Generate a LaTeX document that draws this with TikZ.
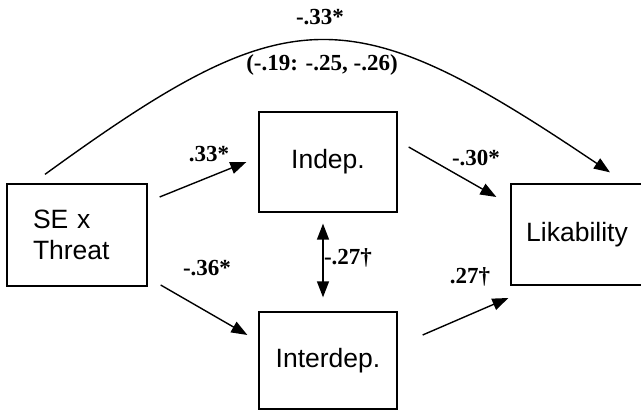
\documentclass[tikz,border=0pt]{standalone}
\usepackage{fontspec}
\setmainfont{Liberation Serif}
\newfontfamily\arialfont{Liberation Sans}
\usetikzlibrary{arrows.meta,calc}
\begin{document}
\begin{tikzpicture}[x=1pt,y=-1pt,
  box/.style={draw,line width=1.3pt,inner sep=0pt,font=\arialfont\fontsize{26.5}{31}\selectfont},
  lbl/.style={inner sep=0pt,font=\bfseries\fontsize{23}{27}\selectfont},
  tip/.style={Triangle[length=16pt,width=12pt]},
  arr/.style={line width=1.4pt,-{Triangle[length=16pt,width=12pt]}},
  darr/.style={line width=1.4pt,{Triangle[length=16pt,width=12pt]}-{Triangle[length=16pt,width=12pt]}}]
\useasboundingbox (0,0) rectangle (641,411);
\node[box,minimum width=140pt,minimum height=102pt,text width=88pt,align=left] (se) at (77,235) {SE x\\Threat};
\node[box,minimum width=138pt,minimum height=100pt] (ind) at (328,162) {Indep.\hspace{8pt}};
\node[box,minimum width=138pt,minimum height=97pt] (intd) at (328,360.5) {Interdep.};
\node[box,minimum width=132pt,minimum height=101pt] (lik) at (577,234.5) {Likability};
\draw[arr] ($(se.east)+(12,-38)$) -- ($(ind.west)+(-12,0)$);
\draw[arr] ($(se.east)+(13,50)$) -- ($(intd.west)+(-11,-25.5)$);
\draw[arr] ($(ind.east)+(11,-15)$) -- ($(lik.west)+(-14,-37.5)$);
\draw[arr] ($(intd.east)+(25,-25.5)$) -- ($(lik.west)+(-2,63.5)$);
\draw[darr] ($(ind.south)+(-5,11)$) -- ($(intd.north)+(-5,-14)$);
\coordinate (cs) at ($(se.north)+(-32,-9)$);
\coordinate (ce) at ($(lik.north)+(33,-11)$);
\draw[arr] (cs) .. controls +(245,-178) and +(-261,-176) .. (ce);
\node[lbl] (l1) at (320,17) {-.33*};
\node[lbl] (l2) at (322,65) {(-.19: -.25, -.26)};
\node[lbl] (l3) at (209,154) {.33*};
\node[lbl] (l4) at (207,268) {-.36*};
\node[lbl] (l5) at (476,158) {-.30*};
\node[lbl] (l6) at (348,258) {-.27\textdagger};
\node[lbl] (l7) at (470,277) {.27\textdagger};
\end{tikzpicture}
\end{document}
